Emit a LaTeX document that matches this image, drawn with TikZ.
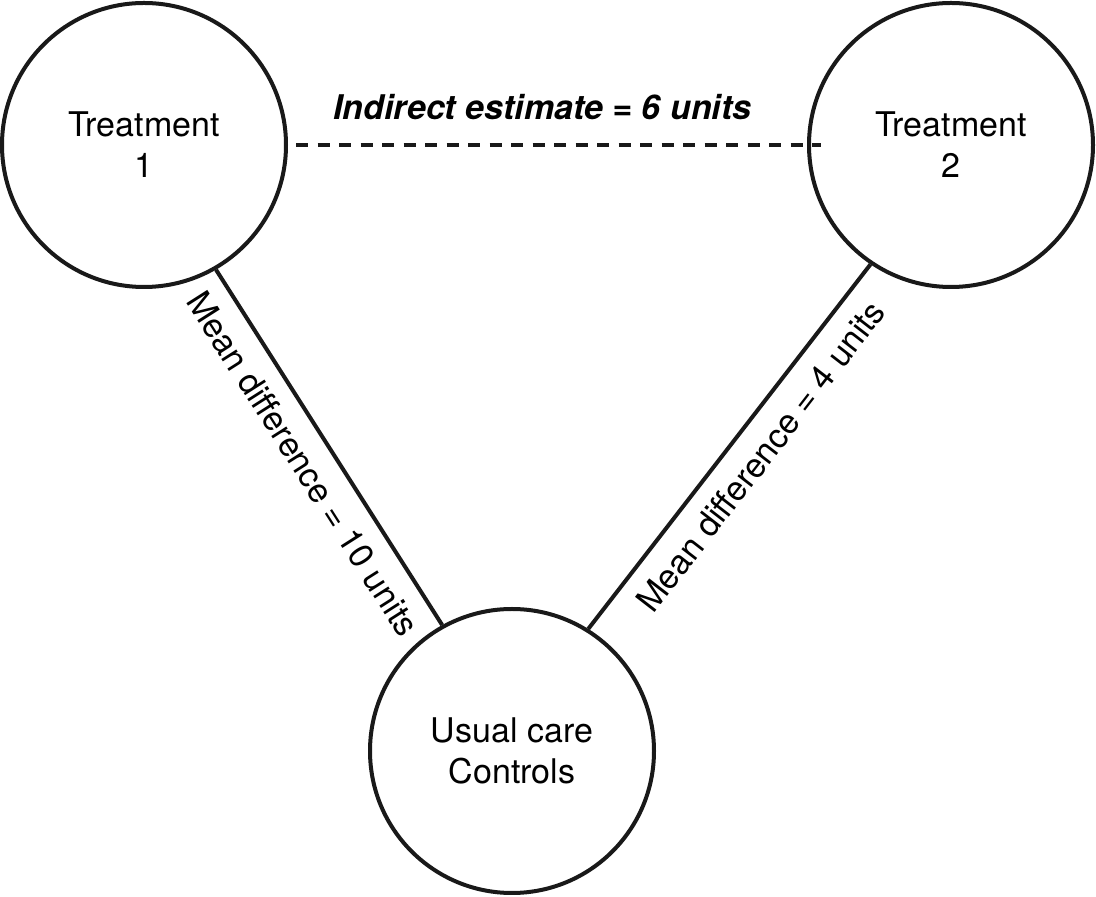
\documentclass[tikz,border=0pt]{standalone}
\usepackage{fontspec}
\setmainfont{TeX Gyre Heros}
\usetikzlibrary{calc}
\begin{document}
\begin{tikzpicture}[x=1pt,y=1pt,
  every node/.style={font=\fontsize{34}{41}\selectfont},
  arm/.style={circle,draw=black!90,line width=4pt,minimum size=284pt,inner sep=0pt,align=center},
  link/.style={draw=black!90,line width=4pt},
  est/.style={sloped,below,inner sep=0pt,inner ysep=16pt}
]
\useasboundingbox (0,0) rectangle (1096,897);
\node[arm] (t1) at (144,752) {Treatment\\1};
\node[arm] (t2) at (951,752) {Treatment\\2};
\node[arm] (uc) at (512,146) {Usual care\\Controls};
\draw[link,dash pattern=on 12pt off 9.5pt] ($(t1.east)+(8,0)$) -- ($(t2.west)+(14,0)$);
\node[anchor=base,font=\fontsize{34}{41}\selectfont\bfseries\itshape] (ie) at (542.5,777) {Indirect estimate = 6 units};
\draw[link] (t1.-60.5) -- node[est,pos=0.5] (l1) {Mean difference = 10 units} (uc.119.6);
\draw[link] (uc.58) -- node[est,pos=0.525] (l2) {Mean difference = 4 units} (t2.-124);
\end{tikzpicture}
\end{document}
